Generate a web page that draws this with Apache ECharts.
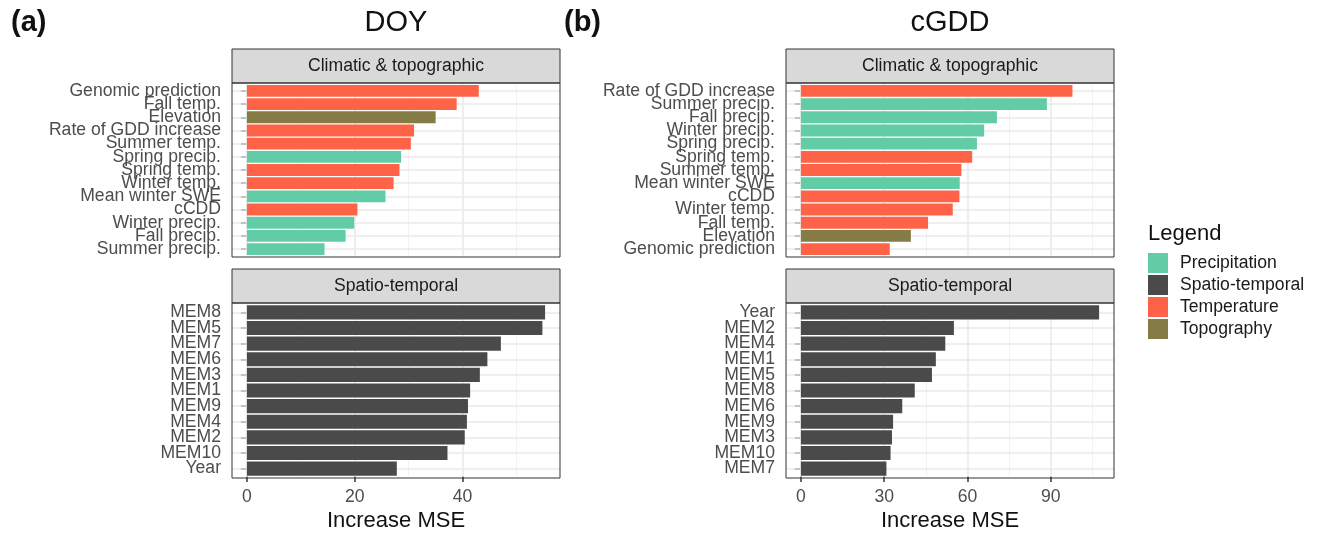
<!DOCTYPE html>
<html>
<head>
<meta charset="utf-8">
<title>Variable importance: DOY and cGDD</title>
<script src="https://cdn.jsdelivr.net/npm/echarts@6/dist/echarts.min.js"></script>
<style>
  html, body { margin: 0; padding: 0; background: #ffffff; }
  #chart { width: 1322px; height: 535px; }
</style>
</head>
<body>
<div id="chart"></div>
<script>
// ---- Data: increase in MSE per predictor, ordered top to bottom ----
const doyClimLabels = ['Genomic prediction', 'Fall temp.', 'Elevation', 'Rate of GDD increase', 'Summer temp.',
  'Spring precip.', 'Spring temp.', 'Winter temp.', 'Mean winter SWE', 'cCDD', 'Winter precip.', 'Fall precip.', 'Summer precip.'];
const doyClimValues = [43.0, 38.9, 35.0, 31.0, 30.4, 28.6, 28.3, 27.2, 25.7, 20.5, 19.9, 18.3, 14.4];
const doyClimGroups = ['Temperature', 'Temperature', 'Topography', 'Temperature', 'Temperature',
  'Precipitation', 'Temperature', 'Temperature', 'Precipitation', 'Temperature', 'Precipitation', 'Precipitation', 'Precipitation'];

const doySpatLabels = ['MEM8', 'MEM5', 'MEM7', 'MEM6', 'MEM3', 'MEM1', 'MEM9', 'MEM4', 'MEM2', 'MEM10', 'Year'];
const doySpatValues = [55.3, 54.8, 47.1, 44.6, 43.2, 41.4, 41.0, 40.8, 40.4, 37.2, 27.8];

const gddClimLabels = ['Rate of GDD increase', 'Summer precip.', 'Fall precip.', 'Winter precip.', 'Spring precip.',
  'Spring temp.', 'Summer temp.', 'Mean winter SWE', 'cCDD', 'Winter temp.', 'Fall temp.', 'Elevation', 'Genomic prediction'];
const gddClimValues = [97.8, 88.6, 70.6, 66.0, 63.4, 61.7, 57.8, 57.2, 57.1, 54.7, 45.8, 39.6, 32.0];
const gddClimGroups = ['Temperature', 'Precipitation', 'Precipitation', 'Precipitation', 'Precipitation',
  'Temperature', 'Temperature', 'Precipitation', 'Temperature', 'Temperature', 'Temperature', 'Topography', 'Temperature'];

const gddSpatLabels = ['Year', 'MEM2', 'MEM4', 'MEM1', 'MEM5', 'MEM8', 'MEM6', 'MEM9', 'MEM3', 'MEM10', 'MEM7'];
const gddSpatValues = [107.4, 55.1, 52.0, 48.6, 47.2, 41.0, 36.5, 33.2, 32.8, 32.3, 30.8];

// ---- Axis ticks ----
const doyTicks = [0, 20, 40];
const doyMinorTicks = [10, 30, 50];
const gddTicks = [0, 30, 60, 90];
const gddMinorTicks = [15, 45, 75, 105];

// ---- Legend ----
const groupNames = ['Precipitation', 'Spatio-temporal', 'Temperature', 'Topography'];
const groupColors = {
  'Precipitation': '#62CCA6',
  'Spatio-temporal': '#4A4A4A',
  'Temperature': '#FF6347',
  'Topography': '#857B44'
};

const FONT = '"Liberation Sans", Arial, sans-serif';
const TEXT_SIZE = 17.6;

// Panel geometry (pixels)
const colLeft = [232, 786];
const panelW = 328;
const rows = [
  { top: 83, height: 174, stripTop: 49 },
  { top: 303, height: 175, stripTop: 269 }
];
const stripH = 34;

const panels = [
  { col: 0, row: 0, labels: doyClimLabels, values: doyClimValues, groups: doyClimGroups, strip: 'Climatic & topographic' },
  { col: 0, row: 1, labels: doySpatLabels, values: doySpatValues, groups: doySpatLabels.map(() => 'Spatio-temporal'), strip: 'Spatio-temporal' },
  { col: 1, row: 0, labels: gddClimLabels, values: gddClimValues, groups: gddClimGroups, strip: 'Climatic & topographic' },
  { col: 1, row: 1, labels: gddSpatLabels, values: gddSpatValues, groups: gddSpatLabels.map(() => 'Spatio-temporal'), strip: 'Spatio-temporal' }
];

const colTicks = [doyTicks, gddTicks];
const colMinor = [doyMinorTicks, gddMinorTicks];
// shared x range per column, padded by 5% on both sides
const colMax = [
  Math.max(...doyClimValues, ...doySpatValues),
  Math.max(...gddClimValues, ...gddSpatValues)
];

const grids = [], xAxes = [], yAxes = [], series = [], graphics = [];

panels.forEach((p, i) => {
  const r = rows[p.row];
  const left = colLeft[p.col];
  const isBottom = p.row === 1;
  const maxV = colMax[p.col];
  // discrete axis padding of 0.6 of a band on each end (ECharts adds 0.5 itself)
  const n = p.labels.length;
  const inset = 0.1 * r.height / (n + 0.2);

  grids.push({
    left: left, top: r.top + inset, width: panelW, height: r.height - 2 * inset,
    show: false, containLabel: false
  });

  xAxes.push({
    type: 'value', gridIndex: i,
    min: -0.05 * maxV, max: 1.05 * maxV,
    axisLine: { show: false },
    splitLine: { show: false },
    axisTick: {
      show: isBottom, length: 4 + inset, customValues: colTicks[p.col],
      lineStyle: { color: '#333333', width: 1.5 }
    },
    axisLabel: {
      show: isBottom, customValues: colTicks[p.col], margin: 10 + inset,
      fontSize: TEXT_SIZE, color: '#4D4D4D', fontFamily: FONT
    },
    name: isBottom ? 'Increase MSE' : '',
    nameLocation: 'middle', nameGap: 32 + inset,
    nameTextStyle: { fontSize: 22, color: '#111111', fontFamily: FONT }
  });

  yAxes.push({
    type: 'category', gridIndex: i, data: p.labels, inverse: true,
    axisLine: { show: false },
    splitLine: { show: false },
    axisTick: { show: true, alignWithLabel: true, length: 6, lineStyle: { color: '#262626', width: 1.6 } },
    axisLabel: { interval: 0, margin: 11, fontSize: TEXT_SIZE, color: '#4D4D4D', fontFamily: FONT }
  });

  // panel grid lines (minor, major, one per category)
  const lines = [];
  colMinor[p.col].forEach(v => lines.push({ xAxis: v, lineStyle: { color: '#F2F2F2', width: 1, type: 'solid' } }));
  colTicks[p.col].forEach(v => lines.push({ xAxis: v, lineStyle: { color: '#EAEAEA', width: 1.6, type: 'solid' } }));
  p.labels.forEach((_, k) => lines.push({ yAxis: k, lineStyle: { color: '#EAEAEA', width: 1.6, type: 'solid' } }));
  series.push({
    type: 'line', xAxisIndex: i, yAxisIndex: i, data: [], silent: true, z: 1,
    markLine: {
      silent: true, symbol: ['none', 'none'], animation: false,
      label: { show: false }, emphasis: { disabled: true },
      data: lines
    }
  });

  series.push({
    type: 'bar', name: 'panel' + i, xAxisIndex: i, yAxisIndex: i, z: 10,
    barWidth: '90%', animation: false, silent: true,
    data: p.values.map((v, k) => ({ value: v, itemStyle: { color: groupColors[p.groups[k]] } }))
  });

  // panel border
  graphics.push({
    type: 'rect', shape: { x: left, y: r.top, width: panelW, height: r.height },
    style: { fill: null, stroke: '#333333', lineWidth: 1 }, z: 20, silent: true
  });
  // facet strip
  graphics.push({
    type: 'rect', shape: { x: left, y: r.stripTop, width: panelW, height: stripH },
    style: { fill: '#D9D9D9', stroke: '#333333', lineWidth: 1 }, z: 5
  });
  graphics.push({
    type: 'text', x: left + panelW / 2, y: r.stripTop + stripH / 2, z: 6,
    style: { text: p.strip, fill: '#1A1A1A', font: TEXT_SIZE + 'px ' + FONT, align: 'center', verticalAlign: 'middle' }
  });
});

// legend entries
groupNames.forEach(g => {
  series.push({
    type: 'line', name: g, xAxisIndex: 0, yAxisIndex: 0, data: [],
    itemStyle: { color: groupColors[g] }, lineStyle: { color: groupColors[g] }
  });
});

// titles and panel tags
graphics.push(
  { type: 'text', x: colLeft[0] + panelW / 2, y: 23, style: { text: 'DOY', fill: '#111111', font: '29px ' + FONT, align: 'center', verticalAlign: 'middle' } },
  { type: 'text', x: colLeft[1] + panelW / 2, y: 23, style: { text: 'cGDD', fill: '#111111', font: '29px ' + FONT, align: 'center', verticalAlign: 'middle' } },
  { type: 'text', x: 11, y: 23, style: { text: '(a)', fill: '#111111', font: 'bold 29px ' + FONT, align: 'left', verticalAlign: 'middle' } },
  { type: 'text', x: 564, y: 23, style: { text: '(b)', fill: '#111111', font: 'bold 29px ' + FONT, align: 'left', verticalAlign: 'middle' } },
  { type: 'text', x: 1148, y: 234, style: { text: 'Legend', fill: '#111111', font: '22px ' + FONT, align: 'left', verticalAlign: 'middle' } }
);

const chart = echarts.init(document.getElementById('chart'), null, { renderer: 'canvas' });
chart.setOption({
  animation: false,
  backgroundColor: '#ffffff',
  textStyle: { fontFamily: FONT },
  grid: grids,
  xAxis: xAxes,
  yAxis: yAxes,
  legend: {
    data: groupNames, orient: 'vertical', left: 1148, top: 253,
    icon: 'rect', itemWidth: 20, itemHeight: 20, itemGap: 2, padding: 0,
    selectedMode: false,
    textStyle: { fontSize: TEXT_SIZE, color: '#1A1A1A', fontFamily: FONT, padding: [0, 0, 0, 7] }
  },
  series: series,
  graphic: graphics
});
</script>
</body>
</html>
